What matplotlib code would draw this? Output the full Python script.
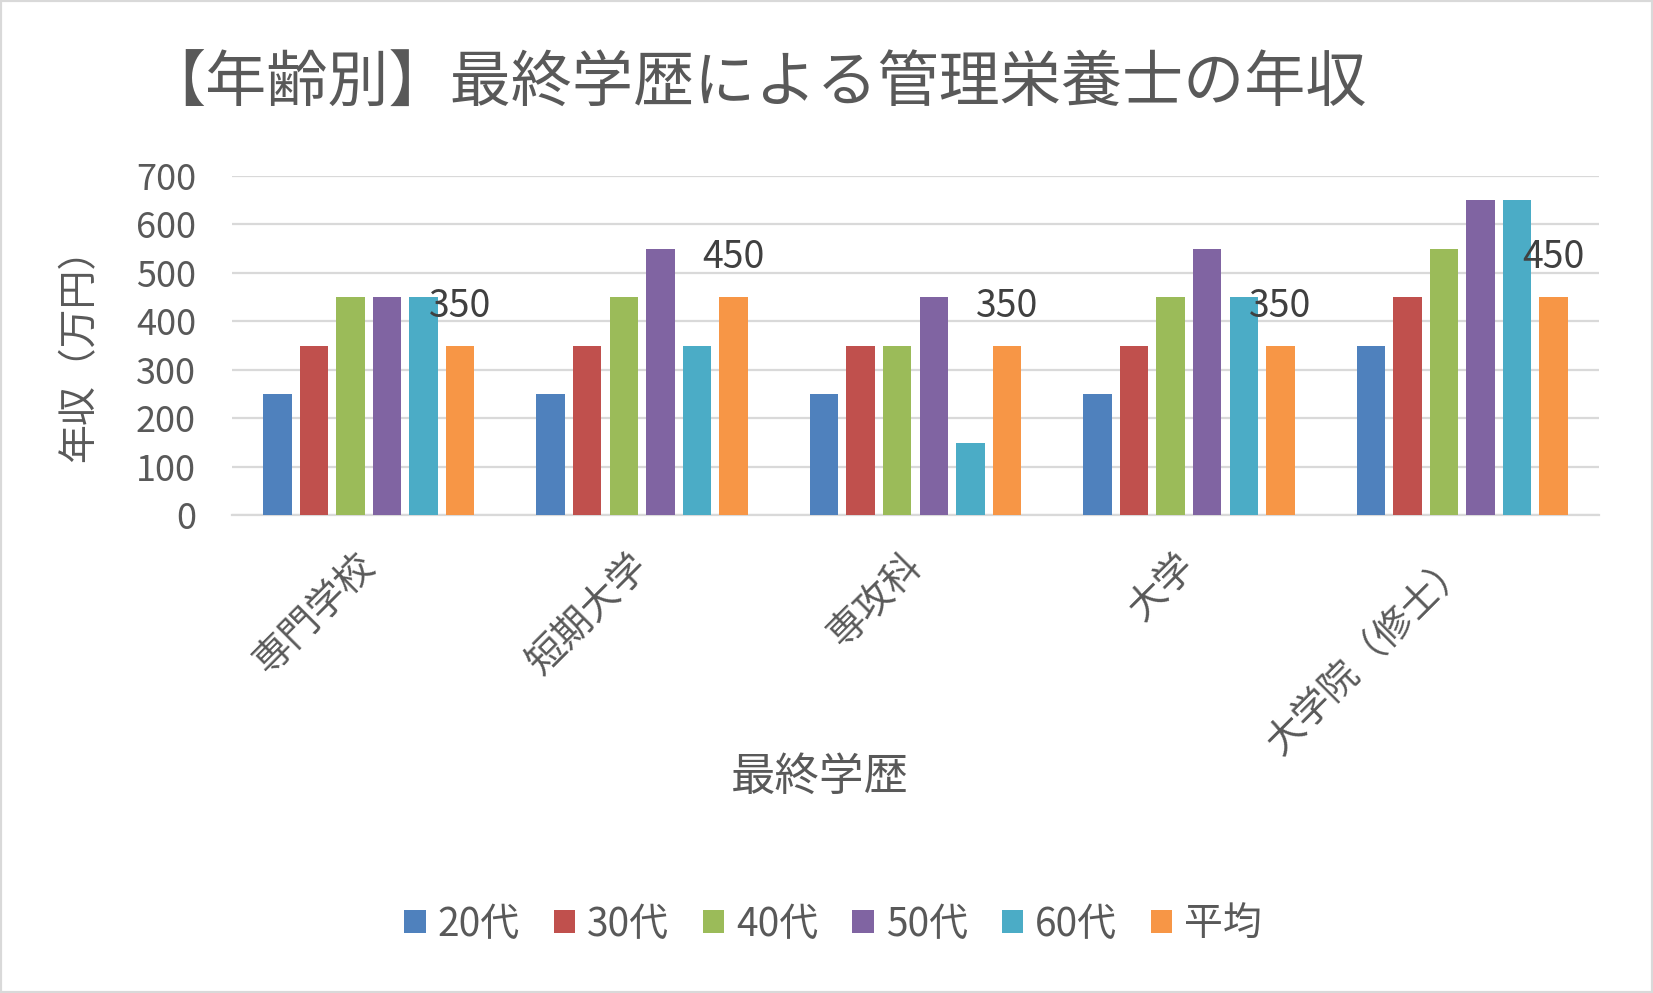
import matplotlib
matplotlib.use("Agg")
import matplotlib.pyplot as plt
import numpy as np
from matplotlib.patches import Rectangle

plt.rcParams["font.family"] = ["Noto Sans CJK JP", "DejaVu Sans"]

categories = ["専門学校", "短期大学", "専攻科", "大学", "大学院（修士）"]
series_names = ["20代", "30代", "40代", "50代", "60代", "平均"]
s20 = [250, 250, 250, 250, 350]
s30 = [350, 350, 350, 350, 450]
s40 = [450, 450, 350, 450, 550]
s50 = [450, 550, 450, 550, 650]
s60 = [450, 350, 150, 450, 650]
avg = [350, 450, 350, 350, 450]
yticks = [0, 100, 200, 300, 400, 500, 600, 700]

colors = ["#4F81BD", "#C0504D", "#9BBB59", "#8064A2", "#4BACC6", "#F79646"]
text_gray = "#595959"
grid_gray = "#D9D9D9"

fig = plt.figure(figsize=(16.53, 9.93), dpi=100)
ax = fig.add_axes([0.1404, 0.4809, 0.8269, 0.3419])

x = np.arange(len(categories))
pitch = 0.1338
width = 0.104
all_series = [s20, s30, s40, s50, s60, avg]
for i, (vals, name) in enumerate(zip(all_series, series_names)):
    ax.bar(x + (i - 2.5) * pitch, vals, width=width, color=colors[i],
           label=name, zorder=3)

# data labels on the average series
for xi, v in zip(x, avg):
    ax.annotate(str(v), xy=(xi + 2.5 * pitch, v), xytext=(0, 21),
                textcoords="offset points", ha="center", va="baseline",
                fontsize=27, color="#404040", zorder=4)

ax.set_xlim(-0.5, len(categories) - 0.5)
ax.set_ylim(0, 700)
ax.set_yticks(yticks)
ax.yaxis.grid(True, color=grid_gray, linewidth=1.6, zorder=0)
ax.set_axisbelow(True)
for side in ("left", "right", "top"):
    ax.spines[side].set_visible(False)
ax.spines["bottom"].set_color(grid_gray)
ax.spines["bottom"].set_linewidth(1.6)
ax.tick_params(axis="both", length=0, labelcolor=text_gray)
ax.tick_params(axis="y", pad=26, labelsize=26)
ax.set_xticks(x)
ax.set_xticklabels(categories, rotation=45, ha="right", va="center",
                   rotation_mode="anchor")
ax.tick_params(axis="x", pad=32, labelsize=27.5)

ax.set_ylabel("年収（万円）", fontsize=28, color=text_gray, labelpad=26)

fig.text(0.457, 0.915, "【年齢別】最終学歴による管理栄養士の年収", fontsize=44,
         color=text_gray, ha="center", va="center")
fig.text(0.496, 0.2175, "最終学歴", fontsize=32, color=text_gray,
         ha="center", va="center")

leg = fig.legend(loc="center", bbox_to_anchor=(0.504, 0.069), ncol=6,
                 frameon=False, fontsize=28, handlelength=0.55,
                 handleheight=0.55, handletextpad=0.3, columnspacing=0.88)
for t in leg.get_texts():
    t.set_color(text_gray)

fig.patches.append(Rectangle((0, 0), 1, 1, transform=fig.transFigure,
                             fill=False, edgecolor=grid_gray, linewidth=3))

fig.savefig("out.png", dpi=100)
